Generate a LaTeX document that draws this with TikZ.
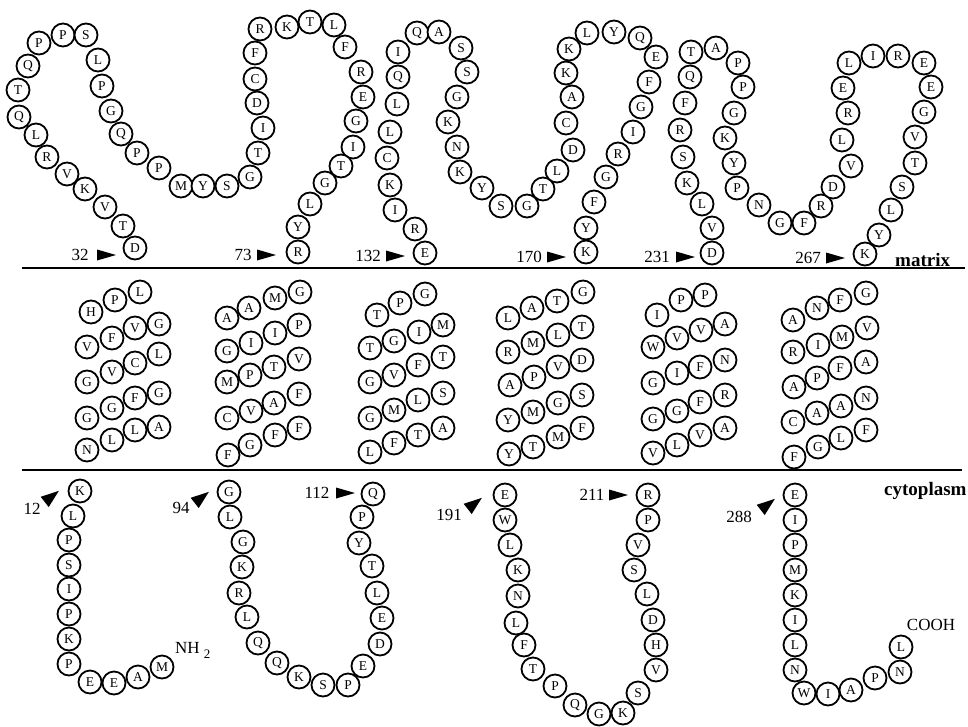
\documentclass[tikz,border=0pt]{standalone}
\usepackage{fontspec}
\setmainfont{Liberation Serif}
\begin{document}
\begin{tikzpicture}[x=1pt,y=-1pt,
  res/.style={circle, draw, line width=1.8pt, fill=white, minimum size=23pt, inner sep=0pt, font=\fontsize{13.5}{13.5}\selectfont},
  lab/.style={inner sep=0pt, font=\fontsize{17}{17}\selectfont},
  side/.style={inner sep=0pt, font=\bfseries\fontsize{19}{19}\selectfont},
  memb/.style={line width=1.8pt},
  tri/.style={fill=black}]
\useasboundingbox (0,0) rectangle (968,726);
% membranes
\coordinate (mt1) at (22,268); \coordinate (mt2) at (965,268);
\coordinate (mb1) at (22,470); \coordinate (mb2) at (962,470);
\draw[memb] (mt1) -- (mt2);
\draw[memb] (mb1) -- (mb2);
\node[side, anchor=base west] (matrix) at (895,266) {matrix};
\node[side, anchor=base west] (cyto) at (884,495) {cytoplasm};
% matrix-side labels
\node[lab] (n32) at (80,255) {32};
\fill[tri,shift={(106,255)}] (10,0) -- (-9,-5.5) -- (-9,5.5) -- cycle;
\node[lab] (n73) at (243,255) {73};
\fill[tri,shift={(266,255)}] (10,0) -- (-9,-5.5) -- (-9,5.5) -- cycle;
\node[lab] (n132) at (368,256) {132};
\fill[tri,shift={(395,256)}] (10,0) -- (-9,-5.5) -- (-9,5.5) -- cycle;
\node[lab] (n170) at (529,257) {170};
\fill[tri,shift={(556,257)}] (10,0) -- (-9,-5.5) -- (-9,5.5) -- cycle;
\node[lab] (n231) at (657,257) {231};
\fill[tri,shift={(685,257)}] (10,0) -- (-9,-5.5) -- (-9,5.5) -- cycle;
\node[lab] (n267) at (808,258) {267};
\fill[tri,shift={(835,258)}] (10,0) -- (-9,-5.5) -- (-9,5.5) -- cycle;
% cytoplasm-side labels
\node[lab] (n12) at (32,509) {12};
\fill[tri,shift={(51,497)},rotate=38] (10,0) -- (-8,-6.5) -- (-8,6.5) -- cycle;
\node[lab] (n94) at (181,508) {94};
\fill[tri,shift={(201,498)},rotate=38] (10,0) -- (-8,-6.5) -- (-8,6.5) -- cycle;
\node[lab] (n112) at (317,493) {112};
\fill[tri,shift={(345,493)}] (10,0) -- (-9,-5.5) -- (-9,5.5) -- cycle;
\node[lab] (n191) at (449,515) {191};
\fill[tri,shift={(474,504)},rotate=38] (10,0) -- (-8,-6.5) -- (-8,6.5) -- cycle;
\node[lab] (n211) at (592,495) {211};
\fill[tri,shift={(618,495)}] (10,0) -- (-9,-5.5) -- (-9,5.5) -- cycle;
\node[lab] (n288) at (739,517) {288};
\fill[tri,shift={(767,505)},rotate=38] (10,0) -- (-8,-6.5) -- (-8,6.5) -- cycle;
\node[lab, anchor=west] (nh2) at (175,650) {NH\hspace{4pt}\raisebox{-5pt}{\fontsize{13}{13}\selectfont 2}};
\node[lab] (cooh) at (931,625) {COOH};
% matrix loop 32-73
\foreach \t/\x/\y [count=\i] in {D/135/248,T/123/226,V/105/207,K/85/189,V/67/174,R/47/157,L/36/135,Q/19/117,T/18/90,Q/28/66,P/39/43,P/63/35,S/86/35,L/98/60,P/102/86,G/111/111,Q/121/134,P/137/153,P/159/168,M/181/186,Y/203/186,S/227/186,G/250/177,T/258/153,I/263/128,D/257/103,C/255/79,F/255/53,R/260/29,K/287/27,T/310/22,L/334/25,F/345/47,R/361/72,E/363/97,G/356/121,I/353/147,T/341/166,G/325/183,L/310/204,Y/298/227,R/298/252}
  \node[res] (ma\i) at (\x,\y) {\t};
% matrix loop 132-170
\foreach \t/\x/\y [count=\i] in {E/425/253,R/415/229,I/395/210,K/390/185,C/387/158,L/390/132,L/397/104,Q/398/77,I/398/52,Q/417/33,A/439/32,S/461/48,S/467/72,G/457/97,K/448/122,N/457/147,K/460/172,Y/482/188,S/501/206,G/527/206,T/543/189,L/557/171,D/573/150,C/566/123,A/572/97,K/566/73,K/569/49,L/587/33,Y/614/32,Q/640/38,E/656/57,F/649/82,G/641/107,I/633/132,R/618/154,G/606/177,F/594/202,Y/586/228,K/586/252}
  \node[res] (mb\i) at (\x,\y) {\t};
% matrix loop 231-267
\foreach \t/\x/\y [count=\i] in {D/712/253,V/712/228,L/702/204,K/687/183,S/683/157,R/680/130,F/685/103,Q/690/77,T/691/52,A/716/48,P/738/63,P/743/87,G/734/113,K/725/138,Y/734/163,P/737/188,N/759/205,G/780/223,F/804/223,R/821/206,D/833/187,V/851/166,L/842/140,R/848/113,E/843/88,L/849/63,I/873/56,R/898/56,E/924/63,E/931/87,G/924/112,V/915/137,T/915/163,S/902/187,L/891/210,Y/879/235,K/865/254}
  \node[res] (mc\i) at (\x,\y) {\t};
% helices
\foreach \t/\x/\y [count=\i] in {H/91/312,P/115/300,L/140/292,V/87/347,F/112/338,V/135/328,G/159/324,G/87/382,V/112/372,C/135/363,L/159/354,G/87/418,G/112/408,F/135/398,G/159/393,N/87/450,L/112/440,L/135/430,A/159/427}
  \node[res] (ha\i) at (\x,\y) {\t};
\foreach \t/\x/\y [count=\i] in {A/227/318,A/249/308,M/275/298,G/300/292,G/227/351,I/251/343,I/275/333,P/299/325,M/227/382,P/250/375,T/274/367,V/299/359,C/227/418,V/251/411,A/274/403,F/299/394,F/228/455,G/250/445,F/275/435,F/299/428}
  \node[res] (hb\i) at (\x,\y) {\t};
\foreach \t/\x/\y [count=\i] in {T/377/315,P/400/303,G/425/294,T/370/348,G/394/341,I/419/332,M/443/325,G/370/382,V/394/375,F/418/365,T/443/357,G/370/418,M/394/410,L/418/400,S/443/393,L/370/452,F/394/443,T/418/435,A/443/428}
  \node[res] (hc\i) at (\x,\y) {\t};
\foreach \t/\x/\y [count=\i] in {L/508/318,A/532/308,T/557/301,G/583/292,R/508/352,M/533/343,L/558/335,T/582/327,A/510/385,P/534/377,V/558/367,D/582/360,Y/508/420,M/533/412,G/558/403,S/582/395,Y/509/454,T/533/447,M/558/437,F/582/428}
  \node[res] (hd\i) at (\x,\y) {\t};
\foreach \t/\x/\y [count=\i] in {I/657/315,P/681/300,P/705/295,W/653/347,V/677/338,V/701/330,A/725/324,G/653/383,I/677/373,F/700/367,N/725/360,G/653/419,G/677/411,F/700/402,R/725/395,V/653/453,L/677/445,V/700/435,A/725/428}
  \node[res] (he\i) at (\x,\y) {\t};
\foreach \t/\x/\y [count=\i] in {A/793/320,N/817/308,F/840/300,G/866/293,R/793/352,I/818/345,M/842/337,V/867/328,A/794/387,P/817/378,F/840/368,A/866/362,C/793/422,A/817/413,A/841/406,N/866/398,F/794/457,G/818/447,L/841/438,F/866/430}
  \node[res] (hf\i) at (\x,\y) {\t};
% cytoplasmic loops
\foreach \t/\x/\y [count=\i] in {K/80/491,L/73/516,P/69/540,S/69/565,I/69/589,P/69/614,K/69/639,P/69/664,E/90/682,E/114/683,A/138/677,M/162/667}
  \node[res] (ca\i) at (\x,\y) {\t};
\foreach \t/\x/\y [count=\i] in {G/229/492,L/230/517,G/243/542,K/242/567,R/239/593,L/247/617,Q/258/643,Q/277/663,K/299/677,S/323/685,P/348/685,E/363/666,D/380/644,E/382/618,L/377/593,T/372/566,Y/359/543,P/362/517,Q/373/494}
  \node[res] (cb\i) at (\x,\y) {\t};
\foreach \t/\x/\y [count=\i] in {E/505/495,W/505/520,L/510/545,K/518/570,N/518/596,L/516/623,F/524/645,T/533/669,P/555/686,Q/575/705,G/599/714,K/623/713,S/638/693,V/656/670,H/656/645,D/653/620,L/647/594,S/634/570,V/638/545,P/648/520,R/648/495}
  \node[res] (cc\i) at (\x,\y) {\t};
\foreach \t/\x/\y [count=\i] in {E/795/495,I/795/520,P/795/545,M/795/570,K/795/595,I/795/620,L/795/645,N/795/670,W/804/693,I/828/694,A/851/690,P/875/678,N/900/672,L/901/647}
  \node[res] (cd\i) at (\x,\y) {\t};
\end{tikzpicture}
\end{document}
